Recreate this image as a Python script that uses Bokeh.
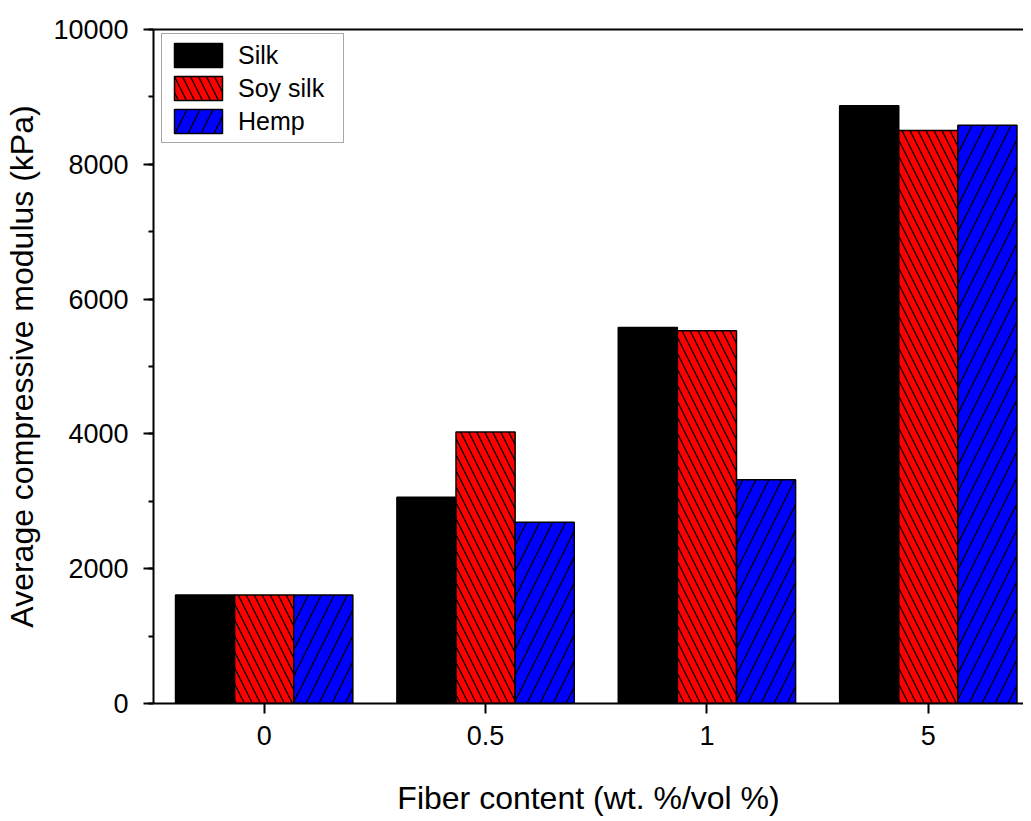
from bokeh.plotting import figure
from bokeh.models import (Range1d, FixedTicker, SingleIntervalTicker, LinearAxis,
                          Legend, LegendItem, ColumnDataSource)
from bokeh.transform import dodge
from bokeh.embed import file_html
from bokeh.resources import INLINE

categories = ["0", "0.5", "1", "5"]
series_names = ["Silk", "Soy silk", "Hemp"]
silk = [1610, 3060, 5580, 8870]
soy_silk = [1610, 4030, 5530, 8500]
hemp = [1610, 2690, 3320, 8580]

FONT = "Liberation Sans"

p = figure(width=1023, height=818, output_backend="svg", toolbar_location=None,
           x_range=Range1d(-0.5, 3.43), y_range=Range1d(0, 10000),
           min_border_left=153, min_border_top=29, min_border_right=0,
           min_border_bottom=115)
p.outline_line_color = None
p.xgrid.visible = False
p.ygrid.visible = False
p.background_fill_color = "white"

xs = list(range(len(categories)))
w = 0.267
src = ColumnDataSource(dict(x=xs, silk=silk, soy=soy_silk, hemp=hemp))

r1 = p.vbar(x=dodge("x", -w, range=p.x_range), top="silk", width=w, bottom=0,
            source=src, fill_color="black", line_color="black", line_width=1.5)
r2 = p.vbar(x=dodge("x", 0, range=p.x_range), top="soy", width=w, bottom=0, source=src,
            fill_color="#ff0000", line_color="black", line_width=1.5,
            hatch_pattern="\\", hatch_color="black", hatch_scale=16, hatch_weight=1.3)
r3 = p.vbar(x=dodge("x", w, range=p.x_range), top="hemp", width=w, bottom=0, source=src,
            fill_color="#0000ff", line_color="black", line_width=1.5,
            hatch_pattern="/", hatch_color="black", hatch_scale=26, hatch_weight=1.3)

# x axis
xa = p.xaxis[0]
xa.ticker = FixedTicker(ticks=xs)
xa.major_label_overrides = {i: c for i, c in enumerate(categories)}
xa.minor_tick_line_color = None
xa.major_tick_in = 0
xa.major_tick_out = 10
xa.axis_label = "Fiber content (wt. %/vol %)"

# y axis
ya = p.yaxis[0]
ya.ticker = SingleIntervalTicker(interval=2000, num_minor_ticks=2)
ya.major_tick_in = 0
ya.major_tick_out = 10
ya.minor_tick_in = 0
ya.minor_tick_out = 5
ya.axis_label = "Average compressive modulus (kPa)"

for ax in (xa, ya):
    ax.axis_line_width = 2
    ax.axis_line_color = "black"
    ax.major_tick_line_width = 2
    ax.major_tick_line_color = "black"
    ax.minor_tick_line_width = 2
    ax.major_label_text_font = FONT
    ax.major_label_text_font_size = "27px"
    ax.major_label_text_color = "black"
    ax.axis_label_text_font = FONT
    ax.axis_label_text_font_size = "32px"
    ax.axis_label_text_font_style = "normal"
    ax.axis_label_text_color = "black"

xa.major_label_standoff = 12
xa.axis_label_standoff = 32
ya.major_label_standoff = 15
ya.axis_label_standoff = 10
ya.minor_tick_line_color = "black"

# top border line
top = LinearAxis(ticker=FixedTicker(ticks=[]), axis_line_width=2, axis_line_color="black",
                 major_tick_out=0, major_tick_in=0, minor_tick_out=0, minor_tick_in=0,
                 major_label_text_font_size="0px")
p.add_layout(top, "above")

legend = Legend(items=[LegendItem(label=series_names[0], renderers=[r1]),
                       LegendItem(label=series_names[1], renderers=[r2]),
                       LegendItem(label=series_names[2], renderers=[r3])],
                location=(8, 560), margin=0, padding=6, spacing=3,
                glyph_width=60, glyph_height=30, label_standoff=10, label_width=99,
                label_text_font=FONT, label_text_font_size="25px",
                label_text_color="black",
                border_line_color="#505050", border_line_width=1.5,
                background_fill_color="white", background_fill_alpha=1.0)
p.add_layout(legend)

open("out.html", "w").write(file_html(p, INLINE))
